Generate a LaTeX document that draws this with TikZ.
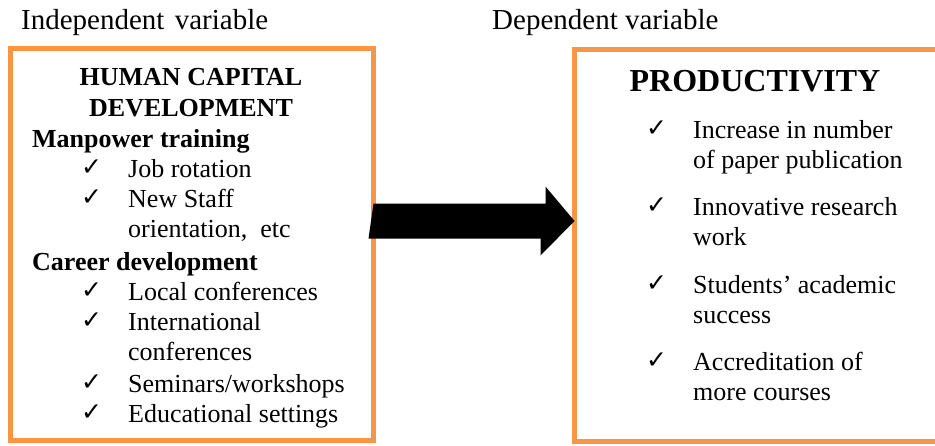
\documentclass[tikz,border=0pt]{standalone}
\usepackage{fontspec}
\setmainfont{Liberation Serif}
\newfontfamily\symfont{DejaVu Sans}
\definecolor{boxorange}{HTML}{F79646}
\begin{document}
\begin{tikzpicture}[x=1pt,y=-1pt,
  frame/.style={draw=boxorange,line width=5pt,minimum height=392pt,inner sep=0pt},
  txt/.style={anchor=base west,inner sep=0pt,font=\fontsize{26}{30}\selectfont},
  label/.style={anchor=base west,inner sep=0pt,font=\fontsize{29}{34}\selectfont},
  head/.style={anchor=base,inner sep=0pt,font=\fontsize{26}{30}\selectfont\bfseries},
  sub/.style={anchor=base west,inner sep=0pt,font=\fontsize{26}{30}\selectfont\bfseries},
  tick/.style={anchor=base west,inner sep=0pt,font=\fontsize{25}{28}\selectfont\symfont\bfseries}]
\clip (0,0) rectangle (935,445);
\useasboundingbox (0,0) rectangle (935,445);
% boxes
\node[frame,minimum width=363pt] (left) at (191.5,244) {};
\node[frame,minimum width=372pt] (right) at (760,245) {};
% headings
\node[label] (iv) at (21,29) {Independent\hspace{3pt} variable};
\node[label] (dv) at (492,29) {Dependent variable};
% left content
\node[head] (h1) at (191,85) {HUMAN CAPITAL};
\node[head] (h2) at (191,116) {DEVELOPMENT};
\node[sub] (mt) at (32,147) {Manpower training};
\node[tick] (c1) at (81,175) {✓};
\node[txt] (l1) at (128,177) {Job rotation};
\node[tick] (c2) at (81,205) {✓};
\node[txt] (l2) at (128,207) {New Staff};
\node[txt] (l2b) at (128,237) {orientation,\ \ etc};
\node[sub] (cd) at (32,270) {Career development};
\node[tick] (c3) at (81,298) {✓};
\node[txt] (l3) at (128,300) {Local conferences};
\node[tick] (c4) at (81,328) {✓};
\node[txt] (l4) at (128,330) {International};
\node[txt] (l4b) at (128,360) {conferences};
\node[tick] (c5) at (81,390) {✓};
\node[txt] (l5) at (128,392) {Seminars/workshops};
\node[tick] (c6) at (81,420) {✓};
\node[txt] (l6) at (128,422) {Educational settings};
% right content
\node[head,font=\fontsize{32}{38}\selectfont\bfseries] (pr) at (755,91) {PRODUCTIVITY};
\node[tick] (r1c) at (646,136) {✓};
\node[txt] (r1) at (693,138) {Increase in number};
\node[txt] (r1b) at (693,168) {of paper publication};
\node[tick] (r2c) at (646,213) {✓};
\node[txt] (r2) at (693,215) {Innovative research};
\node[txt] (r2b) at (693,245) {work};
\node[tick] (r3c) at (646,291) {✓};
\node[txt] (r3) at (693,293) {Students’ academic};
\node[txt] (r3b) at (693,323) {success};
\node[tick] (r4c) at (646,368) {✓};
\node[txt] (r4) at (693,370) {Accreditation of};
\node[txt] (r4b) at (693,400) {more courses};
% block arrow
\coordinate (as) at (left.east |- 0,221);
\coordinate (ae) at ([xshift=3pt]right.west |- 0,221);
\fill[black] (as) ++(-2,-17.5) -- ++(172,0) -- ++(0,-17) -- (ae) -- ++(-34,34.5) -- ++(0,-17) -- ++(-172,0) -- cycle;
\end{tikzpicture}
\end{document}
